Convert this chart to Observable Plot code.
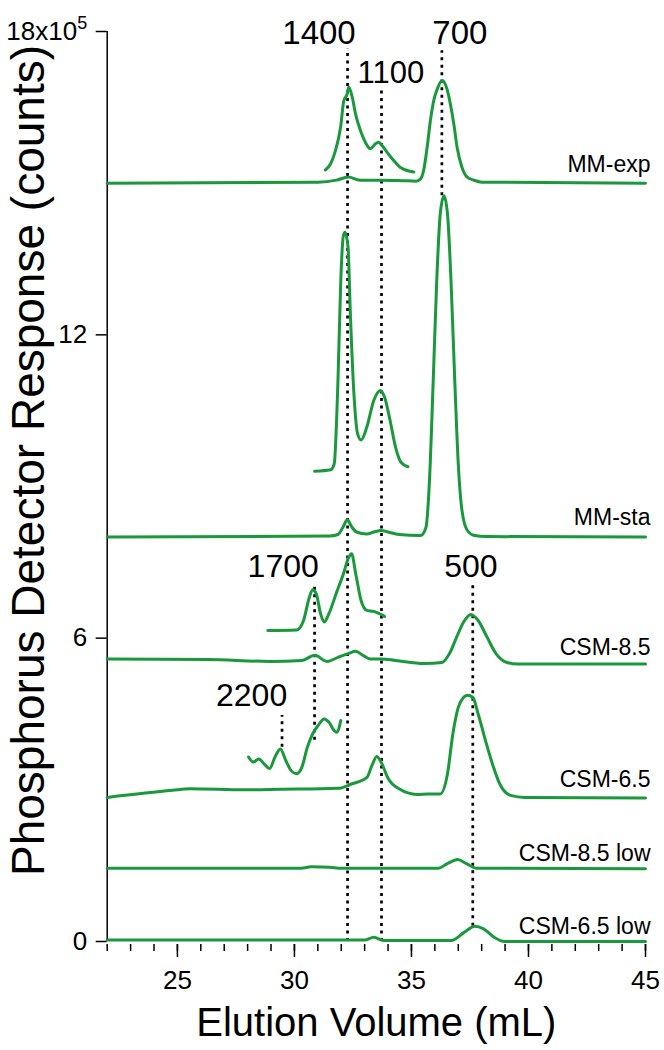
<!DOCTYPE html>
<html>
<head>
<meta charset="utf-8">
<script src="https://cdn.jsdelivr.net/npm/d3@7"></script>
<script src="https://cdn.jsdelivr.net/npm/@observablehq/plot@0.6"></script>
<style>
  html, body { margin: 0; padding: 0; background: #fff; }
  #chart { width: 664px; height: 1050px; }
</style>
</head>
<body>
<div id="chart"></div>
<script>
// ---- Data (y in units of 10^5 counts, traces drawn with their vertical offsets) ----
const mmExpX = [22, 31.0, 31.8, 32.3, 32.8, 33.7, 34.6, 35.2, 35.38, 35.52, 35.67, 35.81, 35.95, 36.10, 36.31, 36.52, 36.66, 36.81, 36.95, 37.16, 37.38, 37.66, 38.0, 45];
const mmExpY = [15.0, 15.02, 15.06, 15.12, 15.06, 15.06, 15.05, 15.04, 15.08, 15.25, 15.71, 16.24, 16.63, 16.86, 17.03, 16.86, 16.57, 16.17, 15.71, 15.31, 15.12, 15.06, 15.02, 15.0];
const mmExpInsetX = [31.32, 31.54, 31.75, 31.97, 32.11, 32.25, 32.32, 32.47, 32.61, 32.82, 33.03, 33.25, 33.46, 33.60, 33.75, 33.96, 34.24, 34.53, 34.82, 35.10];
const mmExpInsetY = [15.26, 15.38, 15.64, 16.10, 16.63, 16.76, 16.90, 16.70, 16.37, 16.04, 15.81, 15.68, 15.78, 15.81, 15.74, 15.61, 15.45, 15.31, 15.25, 15.22];

const mmStaX = [22, 31.5, 31.86, 32.08, 32.26, 32.45, 32.65, 33.09, 33.4, 33.7, 34.0, 34.47, 35.39, 35.62, 35.77, 35.93, 36.08, 36.23, 36.39, 36.54, 36.69, 36.85, 37.00, 37.16, 37.39, 37.69, 38.2, 45];
const mmStaY = [8.0, 8.02, 8.05, 8.2, 8.34, 8.2, 8.10, 8.06, 8.1, 8.13, 8.1, 8.05, 8.03, 8.19, 9.12, 11.10, 13.07, 14.39, 14.75, 14.39, 13.07, 11.10, 9.45, 8.52, 8.13, 8.03, 8.01, 8.0];
const mmStaInsetX = [30.86, 31.55, 31.70, 31.86, 31.98, 32.09, 32.16, 32.29, 32.39, 32.55, 32.70, 32.85, 33.09, 33.39, 33.67, 33.85, 34.09, 34.32, 34.55, 34.85];
const mmStaInsetY = [9.30, 9.33, 9.45, 11.10, 13.07, 13.96, 14.03, 13.73, 12.41, 10.77, 10.04, 9.92, 10.17, 10.70, 10.90, 10.77, 10.30, 9.78, 9.48, 9.39];

const csm85X = [22, 26.32, 28.94, 30.32, 30.87, 31.39, 31.86, 32.32, 32.62, 32.93, 33.24, 33.70, 34.32, 35.54, 36.31, 36.62, 36.93, 37.23, 37.54, 37.85, 38.23, 38.62, 39.08, 39.54, 45];
const csm85Y = [5.59, 5.58, 5.54, 5.56, 5.66, 5.54, 5.62, 5.70, 5.74, 5.66, 5.59, 5.59, 5.56, 5.50, 5.52, 5.69, 6.02, 6.32, 6.47, 6.35, 6.02, 5.69, 5.52, 5.49, 5.49];
const csm85InsetX = [28.86, 30.09, 30.39, 30.62, 30.78, 30.93, 31.12, 31.27, 31.47, 31.78, 32.09, 32.32, 32.44, 32.62, 32.85, 33.09, 33.39, 33.85];
const csm85InsetY = [6.15, 6.16, 6.35, 6.78, 6.96, 6.88, 6.48, 6.32, 6.48, 6.88, 7.27, 7.60, 7.67, 7.27, 6.74, 6.55, 6.53, 6.43];

const csm65X = [22, 24.79, 25.55, 27.86, 29.40, 31.86, 32.47, 33.09, 33.31, 33.52, 33.70, 34.01, 34.47, 35.23, 35.70, 36.23, 36.54, 36.77, 37.00, 37.23, 37.39, 37.62, 37.85, 38.16, 38.46, 38.77, 39.23, 39.85, 45];
const csm65Y = [2.85, 2.99, 3.02, 3.00, 3.01, 3.03, 3.12, 3.24, 3.48, 3.66, 3.55, 3.22, 3.02, 2.91, 2.92, 2.92, 3.32, 4.11, 4.63, 4.83, 4.87, 4.83, 4.50, 3.98, 3.51, 3.12, 2.89, 2.85, 2.84];
const csm65InsetX = [28.04, 28.24, 28.48, 28.71, 28.94, 29.17, 29.40, 29.63, 29.86, 30.09, 30.32, 30.55, 30.78, 31.01, 31.27, 31.47, 31.70, 31.81, 31.98];
const csm65InsetY = [3.65, 3.55, 3.61, 3.51, 3.42, 3.65, 3.81, 3.58, 3.38, 3.32, 3.45, 3.84, 4.11, 4.27, 4.40, 4.34, 4.17, 4.14, 4.37];

const csm85LowX = [22, 30.3, 30.71, 31.5, 32.0, 36.16, 36.53, 36.98, 37.35, 37.80, 45];
const csm85LowY = [1.45, 1.45, 1.48, 1.47, 1.45, 1.45, 1.54, 1.62, 1.54, 1.45, 1.44];

const csm65LowX = [22, 33.0, 33.39, 33.8, 36.7, 37.25, 37.71, 38.08, 38.53, 38.98, 45];
const csm65LowY = [0.03, 0.03, 0.085, 0.02, 0.02, 0.18, 0.30, 0.25, 0.085, 0.0, 0.0];

// trace names and label heights
const traceNames = ["MM-exp", "MM-sta", "CSM-8.5", "CSM-6.5", "CSM-8.5 low", "CSM-6.5 low"];
const traceLabelY = [15.22, 8.23, 5.67, 3.05, 1.60, 0.14];

// dotted reference lines (peak positions) and their size labels
const refX  = [32.27, 33.72, 36.30, 30.86, 37.62, 29.47];
const refY1 = [0.0, 0.0, 14.75, 3.98, 0.30, 3.84];
const refY2 = [17.66, 16.86, 17.62, 7.07, 7.04, 4.47];
const peakLabels = ["1400", "1100", "700", "1700", "500", "2200"];
const peakLabelX = [31.05, 34.12, 37.07, 29.52, 37.54, 28.17];
const peakLabelY = [17.75, 16.99, 17.75, 7.21, 7.21, 4.65];
const peakLabelSize = [33, 31, 33, 32, 32, 32];

// axes
const xMajorTicks = [25, 30, 35, 40, 45];
const xMinorTicks = d3.range(22, 46, 1);
const yTicks = [0, 6, 12, 18];
const xTitle = "Elution Volume (mL)";
const yTitle = "Phosphorus Detector Response (counts)";

// ---- Chart ----
const green = "#1a983c";
const font = "'Liberation Sans', Arial, Helvetica, sans-serif";
const traces = [
  [mmExpX, mmExpY], [mmExpInsetX, mmExpInsetY],
  [mmStaX, mmStaY], [mmStaInsetX, mmStaInsetY],
  [csm85X, csm85Y], [csm85InsetX, csm85InsetY],
  [csm65X, csm65Y], [csm65InsetX, csm65InsetY],
  [csm85LowX, csm85LowY], [csm65LowX, csm65LowY]
];

const chart = Plot.plot({
  width: 664,
  height: 1050,
  marginLeft: 106.7,
  marginRight: 19,
  marginTop: 31,
  marginBottom: 109,
  style: {fontFamily: font, background: "white", color: "black", overflow: "visible"},
  x: {domain: [22, 45]},
  y: {domain: [0, 18]},
  marks: [
    // y axis line
    Plot.ruleX([22], {y1: 0, y2: 18, stroke: "black", strokeWidth: 1.5}),
    Plot.axisY({ticks: yTicks, tickSize: 11, tickPadding: 9, fontSize: 26, strokeWidth: 1.5,
      tickFormat: d => d === 18 ? "18x10^5" : String(d), label: null}),
    Plot.axisX({ticks: xMinorTicks, tickSize: 7, tickFormat: () => "", dy: 3, strokeWidth: 1.5, label: null}),
    Plot.axisX({ticks: xMajorTicks, tickSize: 13, tickPadding: 13, dy: 3, fontSize: 26, strokeWidth: 1.5, label: null}),
    // dotted reference lines
    Plot.ruleX(refX, {x: refX, y1: refY1, y2: refY2, stroke: "black", strokeWidth: 2.7, strokeDasharray: "3,4.5"}),
    // traces
    ...traces.map(([xs, ys]) => Plot.line(xs, {x: xs, y: ys, stroke: green, strokeWidth: 3, curve: "monotone-x"})),
    // peak size labels
    Plot.text(peakLabels, {x: peakLabelX, y: peakLabelY, text: d => d, lineAnchor: "bottom", fontSize: 32}),
    // trace names
    Plot.text(traceNames, {frameAnchor: "right", y: traceLabelY, text: d => d, textAnchor: "end", dx: 5, lineAnchor: "bottom", fontSize: 23}),
    // axis titles
    Plot.text([xTitle], {frameAnchor: "bottom", text: d => d, textAnchor: "middle", lineAnchor: "bottom", dy: 94, fontSize: 40}),
    Plot.text([yTitle], {frameAnchor: "left", text: d => d, textAnchor: "middle", rotate: -90, dx: -78, dy: -26, lineAnchor: "middle", fontSize: 46})
  ]
});

// explicit font sizes for tick labels and peak labels; superscript exponent on the top y tick
chart.querySelectorAll("g[aria-label$='tick label'] text").forEach(t => t.style.setProperty("font-size", "26px", "important"));
chart.querySelectorAll("text").forEach(t => {
  const i = peakLabels.indexOf(t.textContent);
  if (i >= 0) t.style.setProperty("font-size", peakLabelSize[i] + "px", "important");
  if (t.textContent === "18x10^5") {
    t.textContent = "18x10";
    t.style.setProperty("font-size", "26px", "important");
    const sup = document.createElementNS("http://www.w3.org/2000/svg", "tspan");
    sup.textContent = "5";
    sup.setAttribute("dy", "-0.6em");
    sup.style.setProperty("font-size", "18px", "important");
    t.appendChild(sup);
  }
});

document.getElementById("chart").appendChild(chart);
</script>
</body>
</html>
